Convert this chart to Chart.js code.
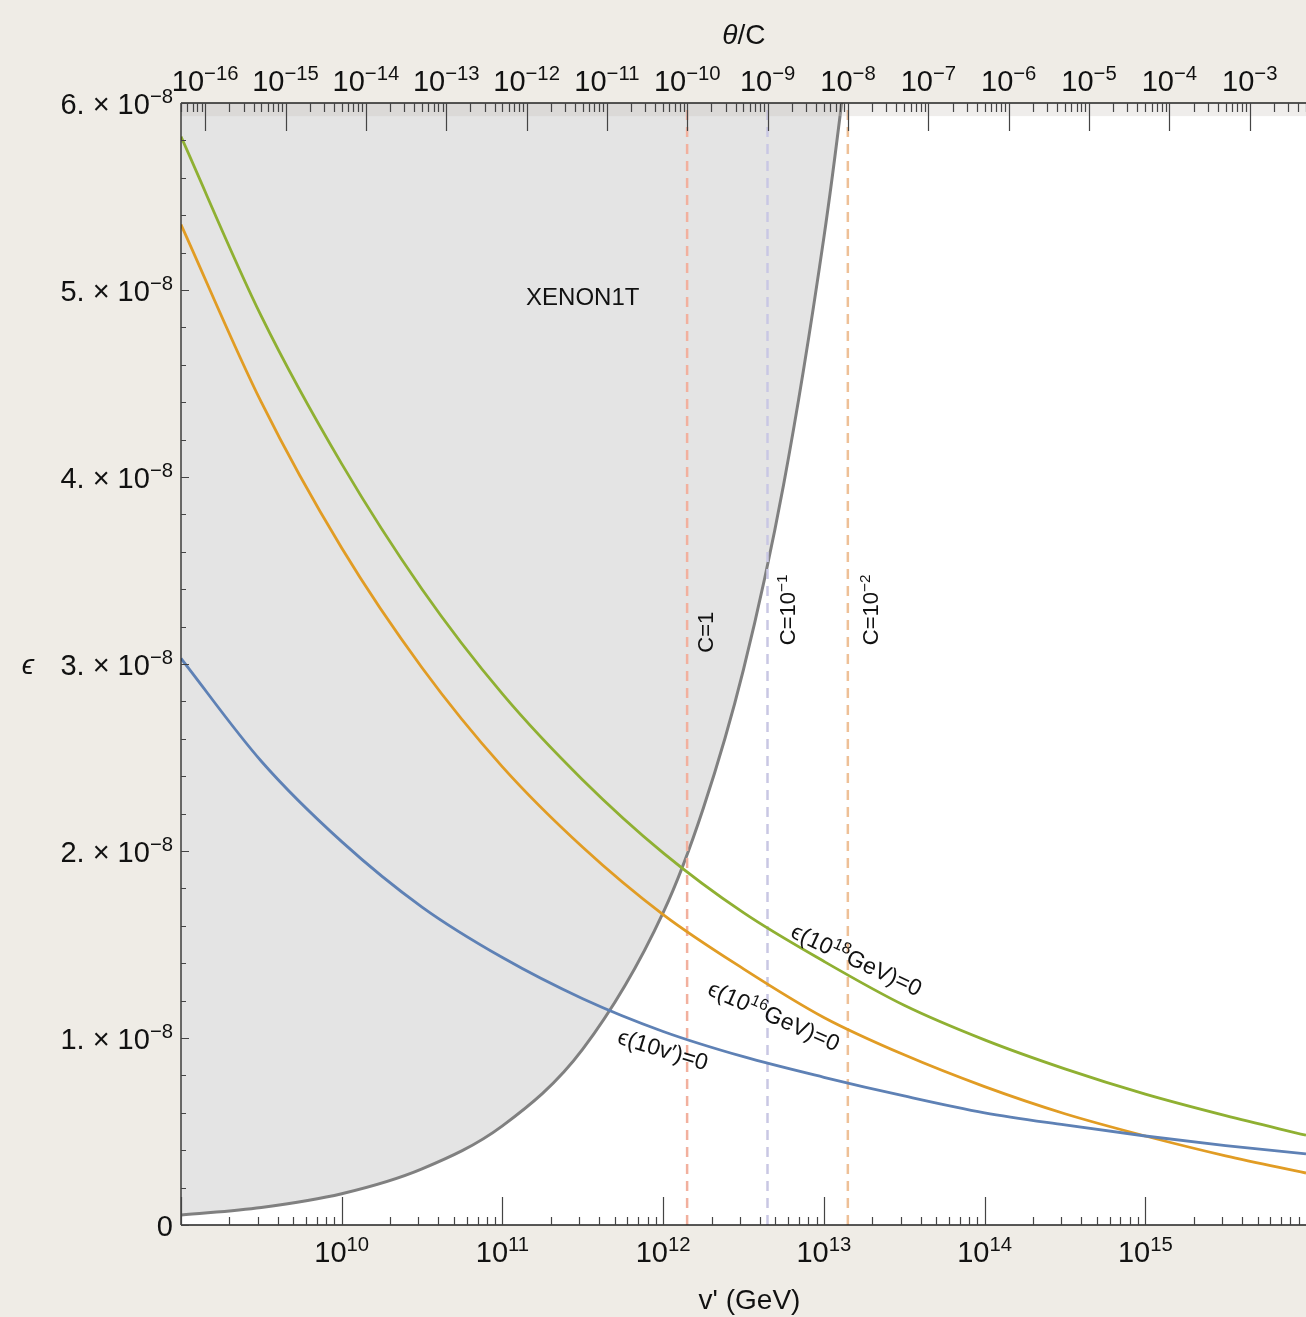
<!DOCTYPE html>
<html>
<head>
<meta charset="utf-8">
<script src="https://cdn.jsdelivr.net/npm/chart.js@4"></script>
<style>
  html, body { margin: 0; padding: 0; background: #efece6; }
  #wrap { width: 1306px; height: 1317px; position: relative; }
</style>
</head>
<body>
<div id="wrap"><canvas id="chart"></canvas></div>
<script>
// v' in GeV (x axis, log)
const vPrime = [1e9, 3.16e9, 1e10, 3.16e10, 1e11, 3.16e11, 1e12, 3.16e12, 1e13, 3.16e13, 1e14, 3.16e14, 1e15, 3.16e15, 1e16];

// epsilon curves, in units of 1e-8
const eps10v  = [3.03, 2.48, 2.05, 1.70, 1.43, 1.21, 1.035, 0.90, 0.79, 0.69, 0.60, 0.535, 0.476, 0.425, 0.38];
const eps1e16 = [5.35, 4.40, 3.62, 2.98, 2.45, 2.02, 1.66, 1.37, 1.11, 0.91, 0.74, 0.595, 0.476, 0.37, 0.278];
const eps1e18 = [5.82, 4.86, 4.07, 3.40, 2.84, 2.38, 1.99, 1.67, 1.41, 1.175, 0.99, 0.835, 0.70, 0.585, 0.48];

// XENON1T excluded region boundary
const xenonV   = [1e9, 3.16e9, 1e10, 3.16e10, 1e11, 3.16e11, 1e12, 1.78e12, 3.16e12, 5.62e12, 1e13, 1.29e13, 1.78e13];
const xenonEps = [0.053, 0.094, 0.167, 0.30, 0.53, 0.94, 1.67, 2.23, 2.97, 3.96, 5.28, 6.0, 7.05];

// vertical C lines
const cLabels = [['C=1', ''], ['C=10', '\u22121'], ['C=10', '\u22122']];
const cLineV  = [1.41e12, 4.46e12, 1.41e13];
const cColors = ['#f2b09e', '#c9c7e4', '#eec097'];

// axis ticks
const yMajor = [0, 1, 2, 3, 4, 5, 6];
const xLabelExp = [10, 11, 12, 13, 14, 15];
const topLabelExp = [-16, -15, -14, -13, -12, -11, -10, -9, -8, -7, -6, -5, -4, -3];

const FONT = '"Liberation Sans", Arial, Helvetica, sans-serif';

function pts(xv, yv) {
    return xv.map((x, i) => ({ x: x, y: yv[i] }));
}

// draw text made of [text, isSuperscript] parts
function drawRich(ctx, parts, x, y, size, align) {
    const sup = size * 0.7;
    let total = 0;
    const widths = parts.map(p => {
        ctx.font = (p[1] ? sup : size) + 'px ' + FONT;
        const w = ctx.measureText(p[0]).width;
        total += w;
        return w;
    });
    let x0 = x;
    if (align === 'center') x0 = x - total / 2;
    else if (align === 'right') x0 = x - total;
    ctx.textAlign = 'left';
    ctx.textBaseline = 'alphabetic';
    parts.forEach((p, i) => {
        ctx.font = (p[1] ? sup : size) + 'px ' + FONT;
        ctx.fillText(p[0], x0, p[1] ? y - size * 0.38 : y);
        x0 += widths[i];
    });
}

const framePlugin = {
    id: 'frame',
    beforeDatasetsDraw(chart) {
        const a = chart.chartArea, ctx = chart.ctx;
        ctx.save();
        ctx.fillStyle = '#ffffff';
        ctx.fillRect(a.left, a.top, a.right - a.left, a.bottom - a.top);
        ctx.restore();
    },
    afterDatasetsDraw(chart) {
        const a = chart.chartArea, ctx = chart.ctx;
        const xs = chart.scales.x, ts = chart.scales.x2, ys = chart.scales.y;
        ctx.save();

        // thin band under the top frame
        const bandBottom = ys.getPixelForValue(5.93);
        ctx.fillStyle = 'rgba(190,185,175,0.25)';
        ctx.fillRect(a.left, a.top, a.right - a.left, bandBottom - a.top);

        // frame lines
        ctx.strokeStyle = '#222';
        ctx.lineWidth = 1.3;
        ctx.beginPath();
        ctx.moveTo(a.left, a.top); ctx.lineTo(a.right, a.top);
        ctx.moveTo(a.left, a.bottom); ctx.lineTo(a.right, a.bottom);
        ctx.moveTo(a.left, a.top); ctx.lineTo(a.left, a.bottom);
        ctx.stroke();

        ctx.strokeStyle = '#444';
        ctx.lineWidth = 1.2;
        ctx.beginPath();
        // bottom axis ticks
        for (let n = 9; n <= 15; n++) {
            for (let k = 1; k <= 9; k++) {
                const v = k * Math.pow(10, n);
                if (v < xs.min || v > xs.max) continue;
                const px = Math.round(xs.getPixelForValue(v)) + 0.5;
                const len = k === 1 ? 28 : 8;
                ctx.moveTo(px, a.bottom); ctx.lineTo(px, a.bottom - len);
            }
        }
        // top axis ticks
        for (let n = -17; n <= -3; n++) {
            for (let k = 1; k <= 9; k++) {
                const v = k * Math.pow(10, n);
                if (v < ts.min || v > ts.max) continue;
                const px = Math.round(ts.getPixelForValue(v)) + 0.5;
                const len = k === 1 ? 28 : 9;
                ctx.moveTo(px, a.top); ctx.lineTo(px, a.top + len);
            }
        }
        // y axis ticks
        for (let i = 0; i <= 30; i++) {
            const v = i * 0.2;
            const py = Math.round(ys.getPixelForValue(v)) + 0.5;
            const len = i % 5 === 0 ? 8 : 5;
            ctx.moveTo(a.left, py); ctx.lineTo(a.left + len, py);
        }
        ctx.stroke();

        // tick labels
        ctx.fillStyle = '#111';
        xLabelExp.forEach(n => {
            const px = xs.getPixelForValue(Math.pow(10, n));
            drawRich(ctx, [['10', false], [String(n), true]], px, a.bottom + 37, 29, 'center');
        });
        topLabelExp.forEach(n => {
            const px = ts.getPixelForValue(Math.pow(10, n));
            drawRich(ctx, [['10', false], ['\u2212' + Math.abs(n), true]], px, a.top - 12, 29, 'center');
        });
        yMajor.forEach(v => {
            const py = ys.getPixelForValue(v);
            if (v === 0) drawRich(ctx, [['0', false]], a.left - 8, py + 11, 29, 'right');
            else drawRich(ctx, [[v + '. \u00d7 10', false], ['\u22128', true]], a.left - 8, py + 11, 29, 'right');
        });

        // axis titles
        const cx = (a.left + a.right) / 2;
        ctx.font = '28px ' + FONT;
        ctx.textAlign = 'center';
        ctx.textBaseline = 'alphabetic';
        ctx.fillText("v' (GeV)", cx + 6, a.bottom + 84);
        ctx.font = 'italic 28px ' + FONT;
        ctx.textAlign = 'right';
        ctx.fillText('\u03b8', cx - 6, 44);
        ctx.font = '28px ' + FONT;
        ctx.textAlign = 'left';
        ctx.fillText('/C', cx - 6, 44);
        ctx.font = 'italic 28px ' + FONT;
        ctx.textAlign = 'center';
        ctx.fillText('\u03f5', 28, ys.getPixelForValue(3) + 10);

        // region label
        ctx.font = '24px ' + FONT;
        ctx.fillText('XENON1T', xs.getPixelForValue(3.16e11), ys.getPixelForValue(4.97) + 9);

        // C line labels (rotated)
        const cLabelPos = [[1.82e12, 3.17], [5.9e12, 3.29], [1.95e13, 3.29]];
        cLabels.forEach((lab, i) => {
            ctx.save();
            ctx.translate(xs.getPixelForValue(cLabelPos[i][0]), ys.getPixelForValue(cLabelPos[i][1]));
            ctx.rotate(-Math.PI / 2);
            drawRich(ctx, [[lab[0], false], [lab[1], true]], 0, 8, 22, 'center');
            ctx.restore();
        });

        // curve labels (rotated)
        const curveLabels = [
            { parts: [['\u03f5(10v\u2032)=0', false]], v: 1.0e12, e: 0.94, ang: 17 },
            { parts: [['\u03f5(10', false], ['16', true], ['GeV)=0', false]], v: 4.9e12, e: 1.12, ang: 24 },
            { parts: [['\u03f5(10', false], ['18', true], ['GeV)=0', false]], v: 1.6e13, e: 1.42, ang: 25 }
        ];
        curveLabels.forEach(l => {
            ctx.save();
            ctx.translate(xs.getPixelForValue(l.v), ys.getPixelForValue(l.e));
            ctx.rotate(l.ang * Math.PI / 180);
            drawRich(ctx, l.parts, 0, 8, 23, 'center');
            ctx.restore();
        });

        ctx.restore();
    }
};

const datasets = [
    {
        data: pts(xenonV, xenonEps),
        borderColor: '#808080',
        backgroundColor: '#e4e4e4',
        borderWidth: 3,
        fill: 'end',
        cubicInterpolationMode: 'monotone',
        order: 10
    }
];
cLineV.forEach((v, i) => {
    datasets.push({
        data: [{ x: v, y: 0 }, { x: v, y: 6 }],
        borderColor: cColors[i],
        borderWidth: 2.5,
        borderDash: [10, 7],
        tension: 0,
        fill: false,
        order: 5
    });
});
datasets.push(
    { data: pts(vPrime, eps10v),  borderColor: '#5e81b5', borderWidth: 2.8, fill: false, cubicInterpolationMode: 'monotone', order: 1 },
    { data: pts(vPrime, eps1e16), borderColor: '#e19c24', borderWidth: 2.8, fill: false, cubicInterpolationMode: 'monotone', order: 1 },
    { data: pts(vPrime, eps1e18), borderColor: '#8fb032', borderWidth: 2.8, fill: false, cubicInterpolationMode: 'monotone', order: 1 }
);

new Chart(document.getElementById('chart').getContext('2d'), {
    type: 'line',
    data: { datasets: datasets },
    options: {
        responsive: true,
        maintainAspectRatio: false,
        animation: false,
        layout: { padding: { left: 181, top: 103, right: 0, bottom: 92 } },
        elements: { point: { radius: 0 } },
        plugins: { legend: { display: false }, tooltip: { enabled: false } },
        scales: {
            x: { type: 'logarithmic', min: 1e9, max: 1e16, display: false },
            x2: { type: 'logarithmic', axis: 'x', position: 'top', min: Math.pow(10, -16.3), max: Math.pow(10, -2.3), display: false },
            y: { type: 'linear', min: 0, max: 6, display: false }
        }
    },
    plugins: [framePlugin]
});
</script>
</body>
</html>
